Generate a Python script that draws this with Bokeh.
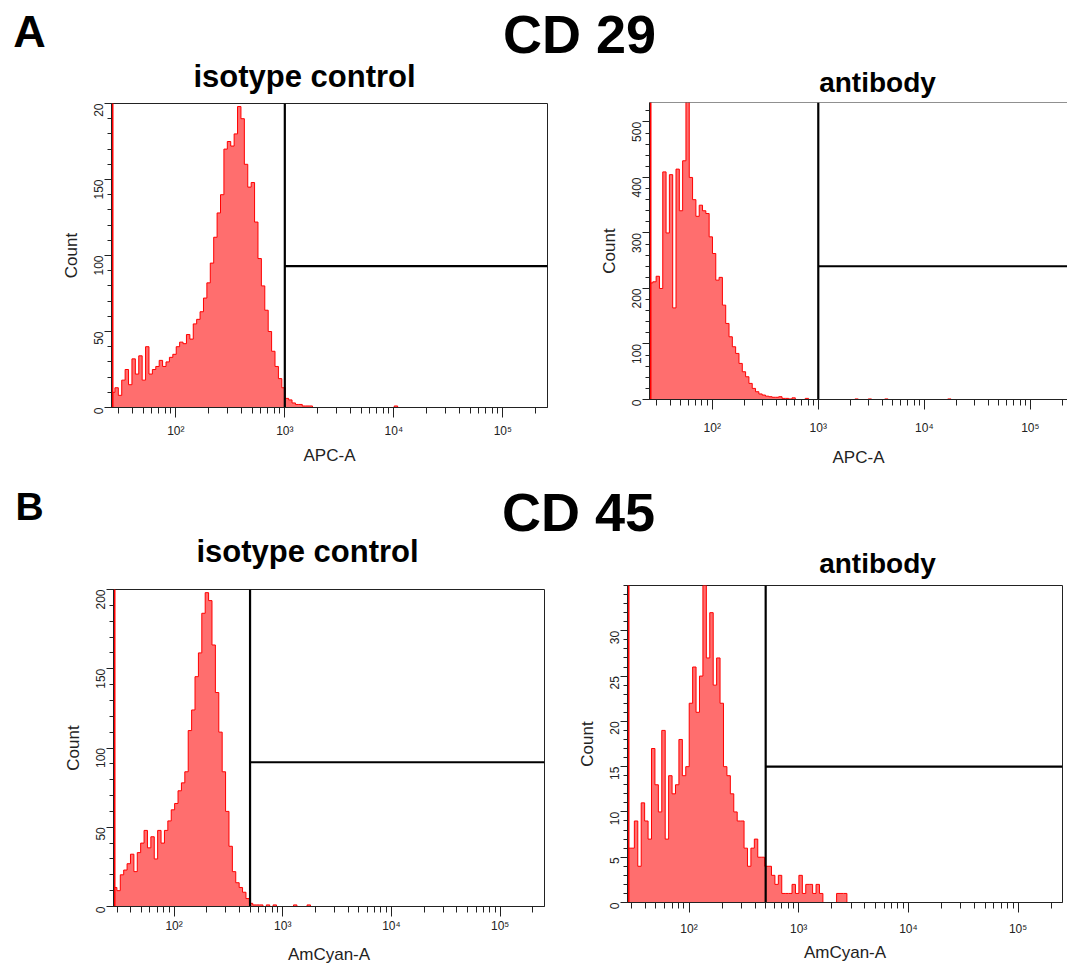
import math
from bokeh.plotting import figure
from bokeh.layouts import column, row
from bokeh.models import Range1d, FixedTicker, Label, Span
from bokeh.embed import file_html
from bokeh.resources import INLINE

FONT = "Liberation Sans"
BINS_PER_DECADE = 32

# ---------------- data (counts per log bin, 1/32 decade, starting at x range start) -------------
# A: CD 29, isotype control (APC-A)
a_iso_counts = [10, 13, 8, 18, 25, 15, 32, 22, 34, 18, 40, 22, 25, 27, 31, 27, 30, 33, 35, 40,
                43, 42, 48, 45, 55, 58, 63, 72, 82, 95, 112, 128, 140, 170, 175, 172, 180, 198, 190, 160,
                145, 148, 122, 98, 80, 64, 50, 37, 27, 19, 13, 6, 5, 3, 2, 2, 1, 1, 1, 0,
                0, 0, 0, 0, 0, 0, 0, 0, 0, 0, 0, 0, 0, 0, 0, 0, 0, 0, 0, 0,
                0, 0, 0, 1]
a_iso_spike = 1000
a_iso_xrange = (25.7, 257000)
a_iso_ymax = 200
a_iso_gate = (1000, 93)

# A: CD 29, antibody (APC-A)
a_ab_counts = [210, 212, 222, 200, 410, 300, 405, 165, 415, 340, 430, 560, 400, 360, 330, 350, 340, 335, 293, 263,
               215, 220, 170, 137, 113, 95, 83, 65, 50, 41, 29, 20, 14, 10, 8, 6, 5, 4, 4, 5,
               2, 2, 1, 3, 0, 0, 0, 2, 0, 0, 0, 0, 0, 0, 0, 0, 0, 0, 0, 0,
               0, 0, 1, 0, 0, 0, 1, 0, 0, 0, 0, 1, 0, 0, 0, 0, 0, 0, 0, 0,
               0, 0, 0, 0, 0, 0, 0, 0, 0, 0, 1]
a_ab_spike = 2000
a_ab_xrange = (25.6, 224000)
a_ab_ymax = 535
a_ab_gate = (1000, 240)

# B: CD 45, isotype control (AmCyan-A)
b_iso_counts = [12, 10, 20, 23, 27, 33, 22, 34, 40, 48, 37, 44, 30, 48, 40, 48, 54, 61, 65, 73,
                78, 85, 111, 124, 145, 160, 185, 198, 193, 165, 135, 110, 85, 60, 38, 22, 15, 12, 9, 5,
                2, 1, 1, 1, 0, 1, 0, 1, 0, 0, 0, 0, 0, 1, 0, 0, 0, 1]
b_iso_spike = 1000
b_iso_xrange = (27.7, 256000)
b_iso_ymax = 200
b_iso_gate = (500, 91)

# B: CD 45, antibody (AmCyan-A)
b_ab_counts = [6, 6, 9, 4, 11, 9, 7, 17, 13, 10, 19, 7, 14, 12, 13, 18, 14, 15, 22, 26,
               21, 25, 35, 27, 32, 24, 27, 22, 15, 14, 12, 10, 9, 9, 6, 4, 6, 7, 5, 5,
               4, 4, 3, 2, 3, 1, 1, 1, 2, 1, 3, 1, 2, 2, 1, 2, 1, 0, 0, 0,
               0, 1, 1, 1]
b_ab_spike = 100
b_ab_xrange = (27.5, 254000)
b_ab_ymax = 35
b_ab_gate = (500, 15)

x_major = [100, 1000, 10000, 100000]
x_major_labels = {100: "10²", 1000: "10³", 10000: "10⁴", 100000: "10⁵"}

FILL = "#FF6E6E"
LINE = "#FF0000"
INK = "#222222"


def minor_log_ticks(lo, hi):
    ticks = []
    for dec in range(1, 6):
        for m in range(2, 10):
            v = m * 10 ** dec
            if lo <= v <= hi:
                ticks.append(v)
    return ticks


def panel(counts, spike, xrange_, ymax, gate, y_step, y_minor, y_label_max, xlabel,
          width, height, borders, standoffs, outline=True, y_overrides=None):
    x_lo, x_hi = xrange_
    left, right, top, bottom = borders
    p = figure(width=width, height=height, x_axis_type="log", title=None,
               x_range=Range1d(x_lo, x_hi), y_range=Range1d(0, ymax),
               output_backend="svg", toolbar_location=None,
               min_border_left=left, min_border_right=right,
               min_border_top=top, min_border_bottom=bottom,
               background_fill_color="white", border_fill_color="white")
    p.grid.visible = False
    if outline:
        p.outline_line_color = INK
        p.outline_line_width = 1
        p.outline_line_alpha = 1
    else:
        p.outline_line_color = None
        p.add_layout(Span(location=ymax, dimension="width", line_color=INK, line_width=1))

    edges = [x_lo * 10 ** (k / BINS_PER_DECADE) for k in range(len(counts) + 1)]

    # filled histogram as one polygon (no seams between bins)
    px, py = [edges[0]], [0]
    for k, c in enumerate(counts):
        px += [edges[k], edges[k + 1]]
        py += [c, c]
    px.append(edges[-1]); py.append(0)
    p.patch(px, py, fill_color=FILL, line_color=None)

    # red outline, only where there are events
    xs, ys = [], []
    in_run = False
    for k, c in enumerate(counts):
        l, r = edges[k], edges[k + 1]
        if c > 0:
            if not in_run:
                xs.append(l); ys.append(0)
                in_run = True
            xs += [l, r]; ys += [c, c]
        elif in_run:
            xs.append(l); ys.append(0)
            xs.append(float("nan")); ys.append(float("nan"))
            in_run = False
    if in_run:
        xs.append(edges[-1]); ys.append(0)
    p.line(xs, ys, line_color=LINE, line_width=1)

    # off-scale pile-up at the lower limit
    p.segment(x0=[x_lo], y0=[0], x1=[x_lo], y1=[spike], line_color=LINE, line_width=4)

    gx, gy = gate
    p.segment(x0=[gx], y0=[0], x1=[gx], y1=[ymax], line_color="black", line_width=2.2)
    p.segment(x0=[gx], y0=[gy], x1=[x_hi], y1=[gy], line_color="black", line_width=2.2)

    tick_std, label_std = standoffs
    xa = p.xaxis[0]
    xa.ticker = FixedTicker(ticks=x_major, minor_ticks=minor_log_ticks(x_lo, x_hi))
    xa.major_label_overrides = x_major_labels
    xa.major_tick_in = 0
    xa.major_tick_out = 10
    xa.minor_tick_in = 0
    xa.minor_tick_out = 6
    xa.axis_line_color = INK
    xa.major_tick_line_color = INK
    xa.minor_tick_line_color = INK
    xa.major_label_text_font = FONT
    xa.major_label_text_font_size = "12px"
    xa.major_label_text_color = INK
    xa.major_label_standoff = tick_std
    xa.axis_label = xlabel
    xa.axis_label_text_font = FONT
    xa.axis_label_text_font_size = "17px"
    xa.axis_label_text_font_style = "normal"
    xa.axis_label_text_color = INK
    xa.axis_label_standoff = label_std

    ya = p.yaxis[0]
    ya.ticker = FixedTicker(ticks=list(range(0, y_label_max + 1, y_step)),
                            minor_ticks=list(range(0, ymax + 1, y_minor)))
    if y_overrides:
        ya.major_label_overrides = y_overrides
    ya.major_label_orientation = math.pi / 2
    ya.major_tick_in = 0
    ya.major_tick_out = 7
    ya.minor_tick_in = 0
    ya.minor_tick_out = 4
    ya.axis_line_color = INK
    ya.major_tick_line_color = INK
    ya.minor_tick_line_color = INK
    ya.major_label_text_font = FONT
    ya.major_label_text_font_size = "12px"
    ya.major_label_text_color = INK
    ya.major_label_standoff = 6
    ya.axis_label = "Count"
    ya.axis_label_text_font = FONT
    ya.axis_label_text_font_size = "17px"
    ya.axis_label_text_font_style = "normal"
    ya.axis_label_text_color = INK
    ya.axis_label_standoff = 6
    return p


def header(h, labels):
    p = figure(width=1067, height=h, x_range=Range1d(0, 1067), y_range=Range1d(h, 0),
               title=None, output_backend="svg", toolbar_location=None, min_border=0,
               outline_line_color=None, x_axis_location=None, y_axis_location=None,
               background_fill_color="white", border_fill_color="white")
    p.grid.visible = False
    for x, y, text, size in labels:
        p.add_layout(Label(x=x, y=y, text=text, text_align="center", text_baseline="alphabetic",
                           text_font=FONT, text_font_size=size, text_font_style="bold",
                           text_color="black"))
    return p


head_a = header(100, [(29, 31, "A", "45px"), (579, 33, "CD 29", "54px"),
                      (304, 76, "isotype control", "31px"), (877, 82, "antibody", "28px")])
head_b = header(100, [(29, 26, "B", "39px"), (578, 31, "CD 45", "54px"),
                      (307, 71, "isotype control", "31px"), (877, 83, "antibody", "28px")])

pa1 = panel(a_iso_counts, a_iso_spike, a_iso_xrange, a_iso_ymax, a_iso_gate, 50, 10, 200, "APC-A",
            590, 380, (111, 43, 3, 73), (6, 5), y_overrides={200: "20"})
pa2 = panel(a_ab_counts, a_ab_spike, a_ab_xrange, a_ab_ymax, a_ab_gate, 100, 20, 500, "APC-A",
            477, 380, (59, 0, 2, 81), (11, 10), outline=False)
pb1 = panel(b_iso_counts, b_iso_spike, b_iso_xrange, b_iso_ymax, b_iso_gate, 50, 10, 200, "AmCyan-A",
            572, 386, (113, 28, 9, 60), (2, 9))
pb2 = panel(b_ab_counts, b_ab_spike, b_ab_xrange, b_ab_ymax, b_ab_gate, 5, 1, 30, "AmCyan-A",
            495, 386, (55, 5, 5, 64), (9, 4))

# nested columns keep each panel's frame at its own position
layout = column(head_a, row(column(pa1), column(pa2)), head_b, row(column(pb1), column(pb2)))

open("out.html", "w").write(file_html(layout, INLINE))
